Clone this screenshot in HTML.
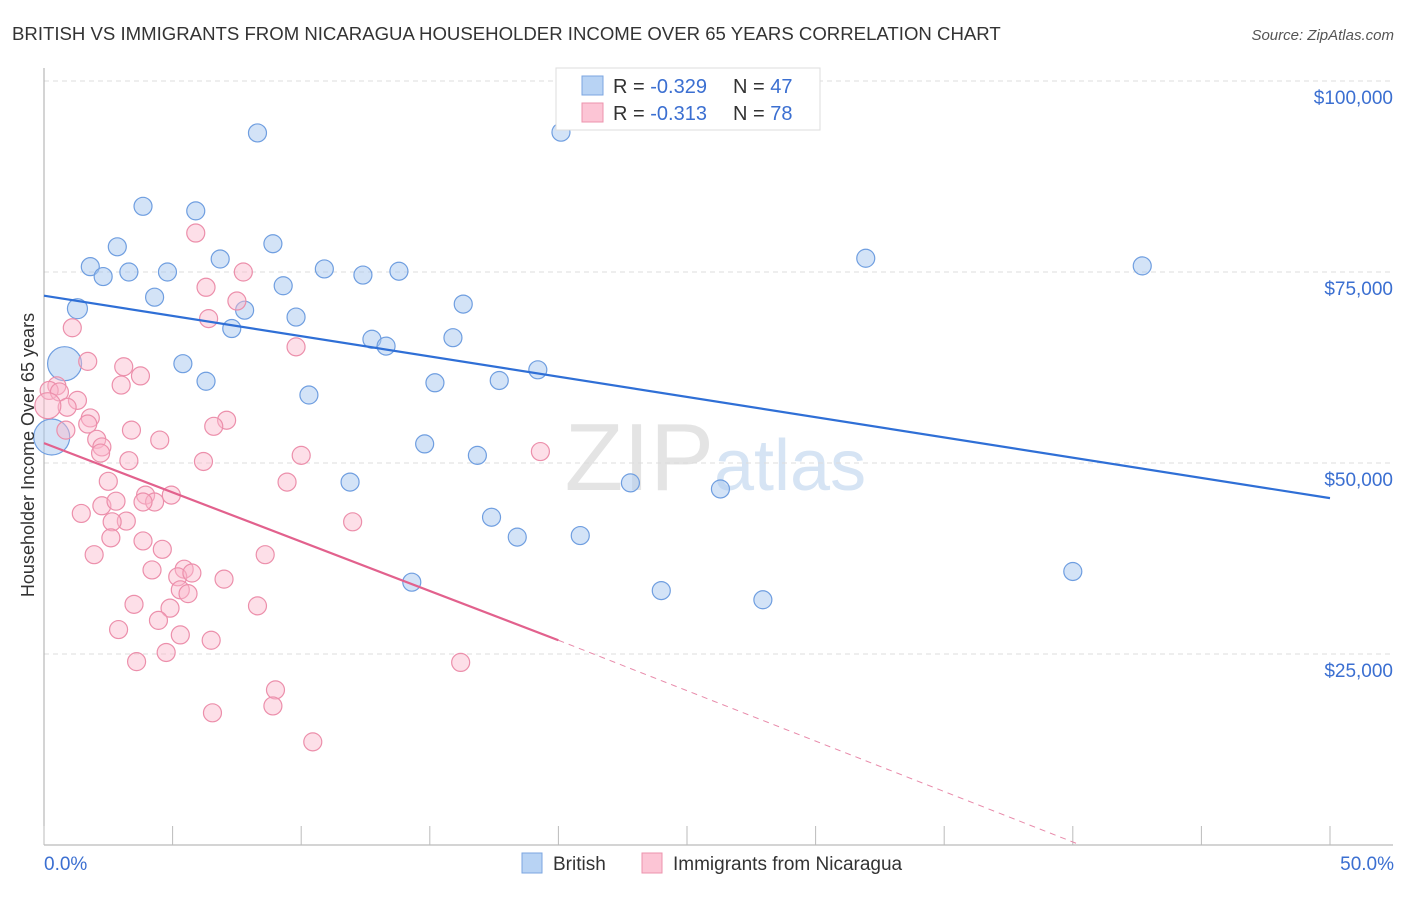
<!DOCTYPE html>
<html><head><meta charset="utf-8"><style>
body{margin:0;background:#fff;font-family:"Liberation Sans",sans-serif;}
svg text{font-family:"Liberation Sans",sans-serif;}
</style></head><body>
<svg width="1406" height="892" xmlns="http://www.w3.org/2000/svg" id="chart">
<text x="12" y="40" font-size="18.6" fill="#333">BRITISH VS IMMIGRANTS FROM NICARAGUA HOUSEHOLDER INCOME OVER 65 YEARS CORRELATION CHART</text>
<text x="1394" y="40" font-size="15" fill="#555" font-style="italic" text-anchor="end">Source: ZipAtlas.com</text>
<text x="714" y="490" font-size="96" fill="#e4e4e4" text-anchor="end" font-family="Liberation Serif">ZIP</text>
<text x="714" y="490" font-size="72" fill="#d6e4f4">atlas</text>
<g id="grid"></g><g id="axes"></g><g id="pts"></g><g id="lines"></g>
<text x="34" y="455" font-size="18" fill="#333" text-anchor="middle" transform="rotate(-90 34 455)">Householder Income Over 65 years</text>
<g>
<rect x="556" y="68" width="264" height="62" fill="#fff" stroke="#ddd"/>
<rect x="582" y="76" width="21" height="19" fill="#b8d3f4" stroke="#7ba6e0"/>
<rect x="582" y="103" width="21" height="19" fill="#fcc5d5" stroke="#ec93ad"/>
<text x="613" y="93" font-size="20" fill="#333">R = <tspan fill="#3b6fd1">-0.329</tspan></text>
<text x="733" y="93" font-size="20" fill="#333">N = <tspan fill="#3b6fd1">47</tspan></text>
<text x="613" y="120" font-size="20" fill="#333">R =  <tspan fill="#3b6fd1">-0.313</tspan></text>
<text x="733" y="120" font-size="20" fill="#333">N = <tspan fill="#3b6fd1">78</tspan></text>
</g>
<g>
<rect x="522" y="853" width="20" height="20" fill="#b8d3f4" stroke="#7ba6e0"/>
<text x="553" y="870" font-size="19" fill="#333">British</text>
<rect x="642" y="853" width="20" height="20" fill="#fcc5d5" stroke="#ec93ad"/>
<text x="673" y="870" font-size="19" fill="#333">Immigrants from Nicaragua</text>
</g>
</svg>
<script>
const yTicks=[25000,50000,75000,100000];
const yTickLabels=["$25,000","$50,000","$75,000","$100,000"];
const xTickLabels=["0.0%","50.0%"];
const britishX=[8.3,20.1,29.4,3.85,5.9,2.85,8.9,1.8,2.3,3.3,4.8,6.85,10.9,12.4,13.8,31.95,42.7,4.3,9.3,7.8,1.3,7.3,9.8,16.3,12.75,13.3,15.9,5.4,0.8,6.3,10.3,15.2,17.7,19.2,0.3,14.8,16.85,11.9,22.8,26.3,17.4,18.4,20.85,14.3,24.0,27.95,40.0];
const britishY=[93200,93300,94800,83600,83000,78300,78700,75700,74400,75000,75000,76700,75400,74600,75100,76800,75800,71700,73200,70000,70200,67600,69100,70800,66200,65300,66400,63000,63000,60700,58900,60500,60800,62200,53400,52500,51000,47500,47400,46600,42900,40300,40500,34400,33300,32100,35800];
const britishR=[9,9,9,9,9,9,9,9,9,9,9,9,9,9,9,9,9,9,9,9,10,9,9,9,9,9,9,9,17,9,9,9,9,9,18,9,9,9,9,9,9,9,9,9,9,9,9];
const nicX=[5.9,7.75,6.3,7.5,6.4,1.1,9.8,1.7,3.1,3.75,3.0,0.5,0.2,0.6,1.3,0.9,1.8,1.7,0.85,3.4,7.1,6.6,4.5,2.05,2.25,2.2,3.3,6.2,10.0,9.45,19.3,2.5,1.45,2.25,2.8,3.95,4.95,4.3,3.85,3.2,2.65,2.6,3.85,12.0,4.6,1.95,8.6,4.2,5.45,5.2,5.75,7.0,5.3,5.6,3.5,4.9,4.45,8.3,2.9,5.3,6.5,4.75,3.6,16.2,9.0,8.9,6.55,10.45,0.15];
const nicY=[80100,75000,73000,71200,68900,67700,65200,63300,62600,61400,60200,60100,59500,59300,58200,57300,55900,55100,54300,54300,55600,54800,53000,53100,52100,51300,50300,50200,51000,47500,51500,47600,43400,44400,45000,45800,45800,44900,44900,42400,42300,40200,39800,42300,38700,38000,38000,36000,36100,35100,35600,34800,33400,32900,31500,31000,29400,31300,28200,27500,26800,25200,24000,23900,20300,18200,17300,13500,57500];
const nicR=[9,9,9,9,9,9,9,9,9,9,9,9,9,9,9,9,9,9,9,9,9,9,9,9,9,9,9,9,9,9,9,9,9,9,9,9,9,9,9,9,9,9,9,9,9,9,9,9,9,9,9,9,9,9,9,9,9,9,9,9,9,9,9,9,9,9,9,9,13];
const blueLine=[0,71900,50,45400];
const pinkLine=[0,52600,20,26800];
const pinkDash=[20,26800,40.3,0];

const NS="http://www.w3.org/2000/svg";
const X0=44,X1=1330,YB=845,PX=191/25000;
const xs=v=>X0+(X1-X0)*v/50, ys=v=>YB-v*PX;
function mk(p,t,a){const e=document.createElementNS(NS,t);for(const k in a)e.setAttribute(k,a[k]);document.getElementById(p).appendChild(e);return e;}
yTicks.forEach((t,i)=>{
 const g=mk('grid','line',{x1:X0,x2:1393,y1:ys(t),y2:ys(t),stroke:'#ddd','stroke-dasharray':'5,4'});
 
 
 const l=mk('axes','text',{x:1393,y:ys(t)+23,'font-size':19,fill:'#3b6fd1','text-anchor':'end'});
 l.textContent=yTickLabels[i];
 
 
});
const ya=mk('axes','line',{x1:X0,x2:X0,y1:68,y2:YB,stroke:'#aaa'});


const xa=mk('axes','line',{x1:X0,x2:1393,y1:YB,y2:YB,stroke:'#aaa'});


for(let p=0;p<=50;p+=5){const t=mk('axes','line',{x1:xs(p),x2:xs(p),y1:826,y2:YB,stroke:'#bbb'});
 
 }
[[0,'start',44],[50,'end',1394]].forEach((d,i)=>{const l=mk('axes','text',{x:d[2],y:870,'font-size':19,fill:'#3b6fd1','text-anchor':d[1]});
 l.textContent=xTickLabels[i];
 
 });
britishX.forEach((v,i)=>{const c=mk('pts','circle',{cx:xs(v),cy:ys(britishY[i]),r:britishR[i],fill:'rgba(168,200,240,0.5)',stroke:'#6f9ee0','stroke-width':1.2});
 
 });
nicX.forEach((v,i)=>{const c=mk('pts','circle',{cx:xs(v),cy:ys(nicY[i]),r:nicR[i],fill:'rgba(250,185,205,0.45)',stroke:'#ec8fab','stroke-width':1.2});
 
 });
const bl=mk('lines','line',{x1:xs(blueLine[0]),y1:ys(blueLine[1]),x2:xs(blueLine[2]),y2:ys(blueLine[3]),stroke:'#2f6fd6','stroke-width':2.2});


const pl=mk('lines','line',{x1:xs(pinkLine[0]),y1:ys(pinkLine[1]),x2:xs(pinkLine[2]),y2:ys(pinkLine[3]),stroke:'#e2618d','stroke-width':2.2});


const pd=mk('lines','line',{x1:xs(pinkDash[0]),y1:ys(pinkDash[1]),x2:xs(pinkDash[2]),y2:ys(pinkDash[3]),stroke:'#e88aaa','stroke-width':1,'stroke-dasharray':'6,5'});


</script>
</body></html>
